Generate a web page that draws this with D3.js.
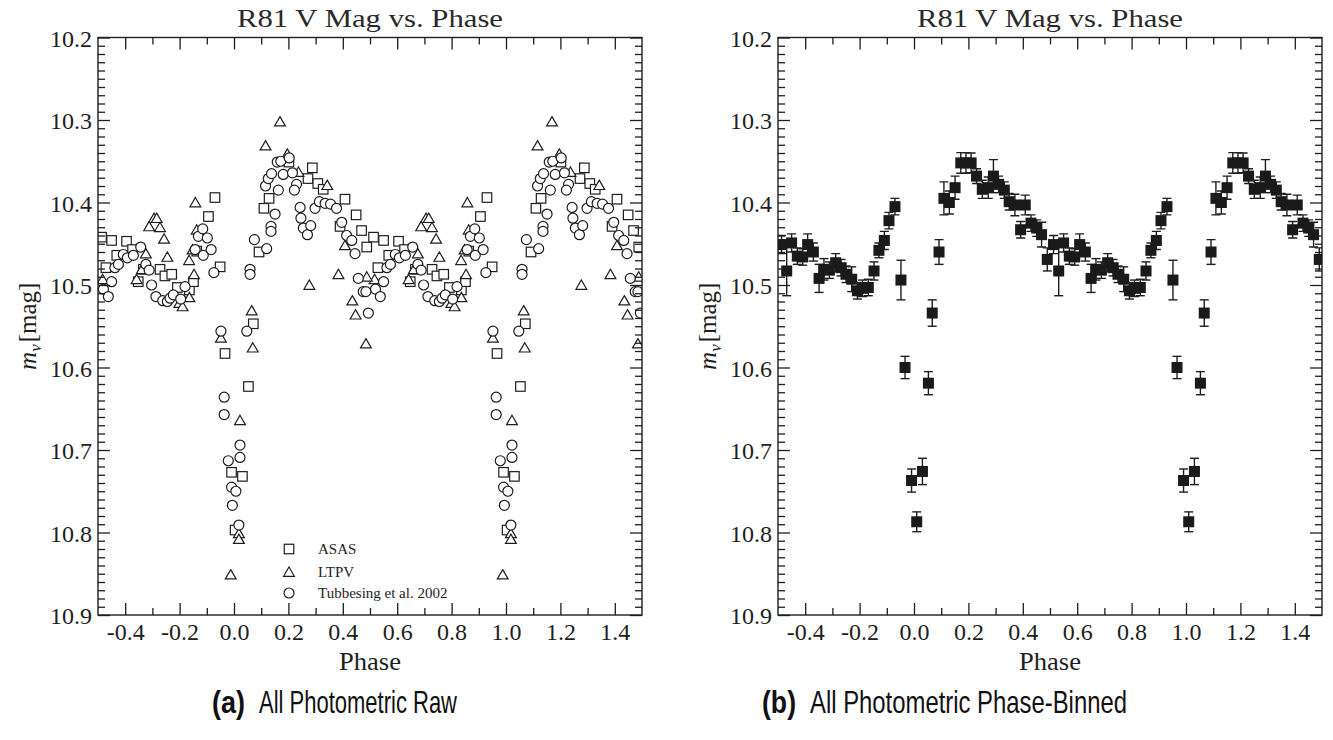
<!DOCTYPE html>
<html>
<head>
<meta charset="utf-8">
<script src="https://cdn.jsdelivr.net/npm/d3@7"></script>
<style>
  html, body { margin: 0; padding: 0; background: #fff; }
  svg { display: block; }
</style>
</head>
<body>
<svg id="fig" width="1333" height="740"></svg>
<script>
// ---- ASAS photometry (phase in [0,1), V magnitude) ----
const asasPhase = [0.513,0.550,0.605,0.529,0.569,0.627,0.648,0.667,0.728,0.746,0.771,0.792,0.836,0.851,0.863,0.906,0.930,0.949,
  0.071,0.092,0.110,0.129,0.202,0.288,0.272,0.308,0.328,0.408,0.449,0.390,0.469,0.488,
  0.967,0.053,0.991,0.031,0.004];
const asasMag = [10.442,10.446,10.447,10.479,10.464,10.457,10.496,10.481,10.481,10.489,10.487,10.503,10.506,10.496,10.459,10.417,10.394,10.478,
  10.547,10.460,10.407,10.395,10.351,10.358,10.371,10.377,10.384,10.396,10.415,10.429,10.434,10.454,
  10.583,10.623,10.727,10.732,10.797];

// ---- LTPV photometry ----
const ltpvPhase = [0.517,0.642,0.661,0.676,0.688,0.706,0.716,0.728,0.743,0.755,0.799,0.811,0.836,0.835,0.848,0.853,0.858,0.863,
  0.065,0.116,0.169,0.196,0.237,0.343,0.277,0.384,0.408,0.435,0.447,0.488,0.485,
  0.952,0.069,0.022,0.018,0.018,0.988];
const ltpvMag = [10.493,10.493,10.481,10.462,10.429,10.419,10.419,10.430,10.444,10.466,10.522,10.526,10.515,10.470,10.457,10.487,10.400,10.433,
  10.531,10.331,10.302,10.341,10.363,10.379,10.500,10.487,10.452,10.519,10.536,10.490,10.571,
  10.564,10.576,10.664,10.801,10.808,10.851];

// ---- Tubbesing et al. 2002 photometry ----
const tubPhase = [0.520,0.538,0.550,0.562,0.575,0.593,0.608,0.630,0.657,0.676,0.688,0.697,0.713,0.738,0.755,0.765,0.777,0.804,0.820,
  0.857,0.869,0.885,0.902,0.887,0.916,0.926,
  0.059,0.059,0.075,0.120,0.136,0.136,0.151,0.116,0.126,0.138,0.163,0.159,0.172,0.181,0.203,0.215,0.230,0.222,
  0.243,0.246,0.255,0.270,0.282,0.298,0.314,0.335,0.355,0.377,0.396,0.414,0.433,0.445,0.457,0.475,0.485,0.494,
  0.952,0.047,0.964,0.964,0.022,0.022,0.979,0.991,0.007,0.994,0.018];
const tubMag = [10.505,10.514,10.496,10.479,10.475,10.463,10.467,10.464,10.454,10.475,10.482,10.500,10.514,10.519,10.520,10.516,10.512,10.517,10.502,
  10.457,10.441,10.432,10.443,10.464,10.457,10.485,
  10.481,10.487,10.445,10.456,10.429,10.435,10.414,10.380,10.371,10.365,10.385,10.351,10.350,10.366,10.346,10.364,10.378,10.385,
  10.406,10.419,10.431,10.439,10.428,10.407,10.399,10.401,10.402,10.407,10.424,10.440,10.446,10.462,10.492,10.508,10.508,10.534,
  10.556,10.556,10.636,10.657,10.694,10.709,10.713,10.745,10.750,10.767,10.791];

// ---- Phase-binned light curve (all photometry) ----
const binPhase = [0.513,0.532,0.550,0.571,0.591,0.609,0.630,0.651,0.669,0.689,0.712,0.732,0.750,0.771,0.792,0.811,0.832,0.853,0.871,0.891,
  0.908,0.930,0.952,0.967,0.991,0.010,0.031,0.053,0.067,0.092,0.110,0.130,0.151,0.172,0.191,0.210,0.230,0.251,0.273,0.292,
  0.311,0.332,0.350,0.371,0.392,0.409,0.430,0.451,0.469,0.490];
const binMag = [10.451,10.483,10.449,10.465,10.466,10.451,10.460,10.492,10.481,10.482,10.473,10.479,10.487,10.493,10.507,10.504,10.503,10.483,10.458,10.446,
  10.422,10.405,10.494,10.600,10.737,10.787,10.726,10.619,10.534,10.460,10.395,10.400,10.382,10.352,10.352,10.352,10.368,10.384,10.382,10.368,
  10.378,10.385,10.399,10.403,10.433,10.403,10.425,10.431,10.439,10.469];
const binErr = [0.011,0.030,0.011,0.010,0.010,0.013,0.011,0.017,0.013,0.010,0.011,0.010,0.010,0.015,0.010,0.010,0.010,0.011,0.009,0.011,
  0.010,0.010,0.024,0.0135,0.014,0.012,0.016,0.014,0.016,0.015,0.020,0.014,0.014,0.0125,0.0125,0.012,0.009,0.011,0.013,0.020,
  0.010,0.010,0.010,0.013,0.010,0.012,0.010,0.010,0.015,0.014];

// ---- Axis ticks and labels ----
const xMajorTicks = [-0.4,-0.2,0.0,0.2,0.4,0.6,0.8,1.0,1.2,1.4];
const xTickLabels = ["-0.4","-0.2","0.0","0.2","0.4","0.6","0.8","1.0","1.2","1.4"];
const xMinorTicks = [-0.3,-0.1,0.1,0.3,0.5,0.7,0.9,1.1,1.3];
const yMajorTicks = [10.2,10.3,10.4,10.5,10.6,10.7,10.8,10.9];
const yTickLabels = ["10.2","10.3","10.4","10.5","10.6","10.7","10.8","10.9"];
// minor magnitude ticks every 0.01 between the labelled ones
const yMinorTicks = d3.range(1, 70).filter(k => k % 10 !== 0).map(k => 10.2 + k / 100);

const titleText = "R81 V Mag vs. Phase";
const xLabelText = "Phase";
const legendLabels = ["ASAS", "LTPV", "Tubbesing et al. 2002"];

const INK = "#1e1e1e";
const SERIF = "'Liberation Serif', 'Times New Roman', serif";
const svg = d3.select("#fig");

const TOP = 37.5, BOTTOM = 615;
const panels = [
  { x0: 98, x1: 642, caption: "(a)", captionText: "All Photometric Raw",
    capX: 212, capW: 33, txtX: 259, txtW: 198 },
  { x0: 778, x1: 1322, caption: "(b)", captionText: "All Photometric Phase-Binned",
    capX: 762, capW: 34, txtX: 810, txtW: 317 }
];

// a phased point is shown once per cycle that falls inside [-0.5, 1.5]
function cycles(p) {
  return [p - 1, p, p + 1].filter(v => v >= -0.5 && v <= 1.5);
}
function expand(phases, ...cols) {
  const out = [];
  phases.forEach((p, i) => cycles(p).forEach(q => out.push([q, ...cols.map(c => c[i])])));
  return out;
}

function drawFrame(g, x, y, P) {
  const styleAxis = sel => {
    sel.select(".domain").remove();
    sel.selectAll(".tick line").attr("stroke", INK).attr("stroke-width", 1.3);
    sel.selectAll("text").attr("font-family", SERIF).attr("font-size", 24).attr("fill", INK);
  };
  // bottom, labelled
  g.append("g").attr("transform", `translate(0,${BOTTOM})`)
    .call(d3.axisBottom(x).tickValues(xMajorTicks).tickSize(-12).tickSizeOuter(0).tickPadding(8)
      .tickFormat((d, i) => xTickLabels[i]))
    .call(styleAxis);
  g.append("g").attr("transform", `translate(0,${BOTTOM})`)
    .call(d3.axisBottom(x).tickValues(xMinorTicks).tickSize(-7).tickSizeOuter(0).tickFormat(""))
    .call(styleAxis);
  // top mirror
  g.append("g").attr("transform", `translate(0,${TOP})`)
    .call(d3.axisTop(x).tickValues(xMajorTicks).tickSize(-12).tickSizeOuter(0).tickFormat(""))
    .call(styleAxis);
  g.append("g").attr("transform", `translate(0,${TOP})`)
    .call(d3.axisTop(x).tickValues(xMinorTicks).tickSize(-7).tickSizeOuter(0).tickFormat(""))
    .call(styleAxis);
  // left, labelled
  g.append("g").attr("transform", `translate(${P.x0},0)`)
    .call(d3.axisLeft(y).tickValues(yMajorTicks).tickSize(-12).tickSizeOuter(0).tickPadding(6)
      .tickFormat((d, i) => yTickLabels[i]))
    .call(styleAxis)
    .call(s => s.selectAll("text").attr("dy", "0.36em"));
  g.append("g").attr("transform", `translate(${P.x0},0)`)
    .call(d3.axisLeft(y).tickValues(yMinorTicks).tickSize(-7).tickSizeOuter(0).tickFormat(""))
    .call(styleAxis);
  // right mirror
  g.append("g").attr("transform", `translate(${P.x1},0)`)
    .call(d3.axisRight(y).tickValues(yMajorTicks).tickSize(-12).tickSizeOuter(0).tickFormat(""))
    .call(styleAxis);
  g.append("g").attr("transform", `translate(${P.x1},0)`)
    .call(d3.axisRight(y).tickValues(yMinorTicks).tickSize(-7).tickSizeOuter(0).tickFormat(""))
    .call(styleAxis);

  g.append("rect")
    .attr("x", P.x0).attr("y", TOP)
    .attr("width", P.x1 - P.x0).attr("height", BOTTOM - TOP)
    .attr("fill", "none").attr("stroke", INK).attr("stroke-width", 1.4);

  const cx = (P.x0 + P.x1) / 2;
  g.append("text").attr("x", cx).attr("y", 27)
    .attr("text-anchor", "middle").attr("font-family", SERIF).attr("font-size", 26)
    .attr("fill", "#2a2a2a").attr("textLength", 266).attr("lengthAdjust", "spacingAndGlyphs")
    .text(titleText);
  g.append("text").attr("x", cx).attr("y", 670)
    .attr("text-anchor", "middle").attr("font-family", SERIF).attr("font-size", 25)
    .attr("fill", INK).attr("textLength", 62).attr("lengthAdjust", "spacingAndGlyphs")
    .text(xLabelText);

  // y label: m_v [mag]
  const yl = g.append("text")
    .attr("transform", `translate(${P.x0 - 62},${(TOP + BOTTOM) / 2}) rotate(-90)`)
    .attr("text-anchor", "middle").attr("font-family", SERIF).attr("font-size", 25).attr("fill", INK);
  yl.append("tspan").attr("font-style", "italic").text("m");
  yl.append("tspan").attr("font-style", "italic").attr("font-size", 17).attr("dy", 5).text("v");
  yl.append("tspan").attr("dy", -5).attr("dx", 2).text("[mag]");

  // sub-figure caption
  g.append("text").attr("x", P.capX).attr("y", 713)
    .attr("font-family", "'Liberation Sans Narrow', 'Liberation Sans', Arial, sans-serif")
    .attr("font-weight", "bold").attr("font-size", 32).attr("fill", "#111")
    .attr("textLength", P.capW).attr("lengthAdjust", "spacingAndGlyphs")
    .text(P.caption);
  g.append("text").attr("x", P.txtX).attr("y", 713)
    .attr("font-family", "'Liberation Sans Narrow', 'Liberation Sans', Arial, sans-serif")
    .attr("font-size", 32).attr("fill", "#111")
    .attr("textLength", P.txtW).attr("lengthAdjust", "spacingAndGlyphs")
    .text(P.captionText);
}

// marker shapes
const SQ = 9.5;
const triPath = "M0,-5 L5.4,4.3 L-5.4,4.3 Z";
function squareMark(sel, px, py) {
  sel.append("rect").attr("x", px - SQ / 2).attr("y", py - SQ / 2)
    .attr("width", SQ).attr("height", SQ)
    .attr("fill", "#fff").attr("stroke", INK).attr("stroke-width", 1.2);
}
function triMark(sel, px, py) {
  sel.append("path").attr("d", triPath).attr("transform", `translate(${px},${py})`)
    .attr("fill", "#fff").attr("stroke", INK).attr("stroke-width", 1.2);
}
function circMark(sel, px, py) {
  sel.append("circle").attr("cx", px).attr("cy", py).attr("r", 5)
    .attr("fill", "#fff").attr("stroke", INK).attr("stroke-width", 1.2);
}

panels.forEach((P, idx) => {
  const x = d3.scaleLinear().domain([-0.5, 1.5]).range([P.x0, P.x1]);
  const y = d3.scaleLinear().domain([10.2, 10.9]).range([TOP, BOTTOM]);
  const g = svg.append("g");

  const clipId = "clip" + idx;
  svg.append("defs").append("clipPath").attr("id", clipId)
    .append("rect").attr("x", P.x0).attr("y", TOP).attr("width", P.x1 - P.x0).attr("height", BOTTOM - TOP);
  const plot = g.append("g").attr("clip-path", `url(#${clipId})`);

  if (idx === 0) {
    const gA = plot.append("g");
    expand(asasPhase, asasMag).forEach(([p, m]) => squareMark(gA, x(p), y(m)));
    const gL = plot.append("g");
    expand(ltpvPhase, ltpvMag).forEach(([p, m]) => triMark(gL, x(p), y(m)));
    const gT = plot.append("g");
    expand(tubPhase, tubMag).forEach(([p, m]) => circMark(gT, x(p), y(m)));

    // legend
    const lg = g.append("g");
    const ly = [549, 572, 593];
    squareMark(lg, 289, ly[0]);
    triMark(lg, 289, ly[1]);
    circMark(lg, 289, ly[2]);
    legendLabels.forEach((t, i) => {
      lg.append("text").attr("x", 318).attr("y", ly[i] + 5)
        .attr("font-family", SERIF).attr("font-size", 15).attr("fill", INK).text(t);
    });
  } else {
    const rows = expand(binPhase, binMag, binErr);
    const eb = plot.append("g").attr("stroke", INK).attr("stroke-width", 1.4).attr("fill", "none");
    rows.forEach(([p, m, e]) => {
      const px = x(p), y1 = y(m - e), y2 = y(m + e);
      eb.append("line").attr("x1", px).attr("x2", px).attr("y1", y1).attr("y2", y2);
      eb.append("line").attr("x1", px - 4.5).attr("x2", px + 4.5).attr("y1", y1).attr("y2", y1);
      eb.append("line").attr("x1", px - 4.5).attr("x2", px + 4.5).attr("y1", y2).attr("y2", y2);
    });
    const sq = plot.append("g");
    rows.forEach(([p, m]) => {
      sq.append("rect").attr("x", x(p) - 5.5).attr("y", y(m) - 5.5)
        .attr("width", 11).attr("height", 11).attr("fill", "#1a1a1a");
    });
  }

  drawFrame(g, x, y, P);
});
</script>
</body>
</html>
